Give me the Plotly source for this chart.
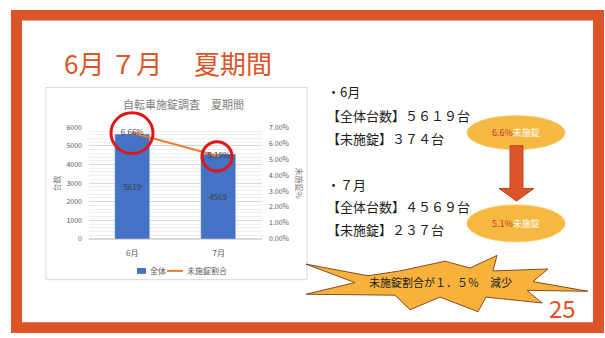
import plotly.graph_objects as go

W, H = 605, 338
FONT = "Noto Sans CJK JP"
ORANGE = "#DC5528"

months = ["6月", "7月"]
totals = [5619, 4569]
unlocked = [374, 237]
rates = [u / t for u, t in zip(unlocked, totals)]
rate_labels = [f"{r*100:.2f}%" for r in rates]

left_ticks = [0, 1000, 2000, 3000, 4000, 5000, 6000]
right_ticks = [0, 0.01, 0.02, 0.03, 0.04, 0.05, 0.06, 0.07]

title_text = "6月 ７月　 夏期間"
chart_title = "自転車施錠調査　夏期間"
side_lines = ["・6月", "【全体台数】５６１９台", "【未施錠】３７４台",
              "・７月", "【全体台数】４５６９台", "【未施錠】２３７台"]
side_y = [88, 113, 137, 184, 207, 230]
oval_pcts = ["6.6%", "5.1%"]
burst_text = "未施錠割合が１．５％　減少"
page_no = "25"
legend_names = ["全体", "未施錠割合"]


def px(x):
    return x / W


def py(y):
    return 1 - y / H


fig = go.Figure()
fig.add_trace(go.Bar(
    x=months, y=totals, name=legend_names[0], marker_color="#4472C4", width=0.41,
    text=[str(t) for t in totals], textposition="inside", insidetextanchor="middle",
    textfont=dict(size=8, color="#404040", family=FONT), yaxis="y"))
fig.add_trace(go.Scatter(
    x=months, y=rates, name=legend_names[1], mode="lines+text",
    line=dict(color="#ED7D31", width=2), text=rate_labels,
    textposition="middle center", textfont=dict(size=8, color="#404040", family=FONT),
    yaxis="y2"))

shapes = []
# slide frame
shapes.append(dict(type="rect", xref="paper", yref="paper", x0=px(11), x1=px(604), y0=py(337), y1=py(4),
                   fillcolor=ORANGE, line=dict(width=0), layer="below"))
shapes.append(dict(type="rect", xref="paper", yref="paper", x0=px(22), x1=px(593), y0=py(326), y1=py(15),
                   fillcolor="white", line=dict(width=0), layer="below"))
# chart box
shapes.append(dict(type="rect", xref="paper", yref="paper", x0=px(46), x1=px(307), y0=py(282), y1=py(84),
                   fillcolor="white", line=dict(color="#D9D9D9", width=1), layer="below"))
# legend symbols
shapes.append(dict(type="rect", xref="paper", yref="paper", x0=px(137), x1=px(146), y0=py(276), y1=py(270),
                   fillcolor="#4472C4", line=dict(width=0)))
shapes.append(dict(type="line", xref="paper", yref="paper", x0=px(167), x1=px(183), y0=py(273), y1=py(273),
                   line=dict(color="#ED7D31", width=2)))
# red circles
shapes.append(dict(type="circle", xref="paper", yref="paper", x0=px(111), x1=px(153), y0=py(152), y1=py(110),
                   line=dict(color="#E01515", width=3)))
shapes.append(dict(type="circle", xref="paper", yref="paper", x0=px(202), x1=px(232), y0=py(170), y1=py(140),
                   line=dict(color="#E01515", width=3)))
# ovals
for (y0, y1) in [(113, 148), (205, 243)]:
    shapes.append(dict(type="circle", xref="paper", yref="paper", x0=px(467), x1=px(565), y0=py(y1), y1=py(y0),
                       fillcolor="#F5B942", line=dict(color="#F7CB6A", width=1)))
# down arrow
arrow_pts = [(510, 144), (523, 144), (523, 188), (534, 188), (516.5, 201), (499, 188), (510, 188)]
path = "M " + " L ".join(f"{px(x)},{py(y)}" for x, y in arrow_pts) + " Z"
shapes.append(dict(type="path", xref="paper", yref="paper", path=path,
                   fillcolor=ORANGE, line=dict(color="#B8461F", width=1)))
# starburst
burst = [(306, 266), (368, 278), (400, 273), (445, 263), (470, 270), (497, 257), (493, 273),
         (548, 271), (533, 284), (588, 294), (527, 293), (542, 306), (486, 300), (478, 315),
         (440, 300), (410, 313), (395, 298), (306, 297), (355, 285)]
path = "M " + " L ".join(f"{px(x)},{py(y)}" for x, y in burst) + " Z"
shapes.append(dict(type="path", xref="paper", yref="paper", path=path,
                   fillcolor="#F7B23B", line=dict(color="#8A4A20", width=1)))


def A(text, x, y, size, color, xanchor="center", angle=0):
    return dict(text=text, x=px(x), y=py(y), xref="paper", yref="paper", xanchor=xanchor,
                yanchor="middle", showarrow=False, textangle=angle,
                font=dict(size=size, color=color, family=FONT))


ann = []
ann.append(A(title_text, 62, 58, 26, ORANGE, "left"))
ann.append(A(chart_title, 183, 101, 11, "#7F7F7F"))
ann.append(A("台数", 57, 183, 8, "#7F7F7F", angle=-90))
ann.append(A("未施錠%", 299, 183, 8, "#7F7F7F", angle=90))
for t, y in zip(side_lines, side_y):
    ann.append(A(t, 325, y, 13, "#202020", "left"))
for p, y in zip(oval_pcts, [130, 224]):
    ann.append(A(f"<span style='color:#C0392B'>{p}</span>未施錠", 516, y, 9, "white"))
ann.append(A(burst_text, 440, 284, 11, "#202020"))
ann.append(A(page_no, 562, 311, 24, ORANGE))
ann.append(A(legend_names[0], 148, 273, 8, "#595959", "left"))
ann.append(A(legend_names[1], 185, 273, 8, "#595959", "left"))

fig.update_layout(
    width=W, height=H, margin=dict(l=0, r=0, t=0, b=0),
    paper_bgcolor="white", plot_bgcolor="rgba(0,0,0,0)",
    font=dict(family=FONT, color="#595959"),
    shapes=shapes, annotations=ann,
    showlegend=False,
    xaxis=dict(domain=[px(89), px(262)], showgrid=False, showline=False, ticks="",
               ticklabelstandoff=8, tickfont=dict(size=8, color="#595959")),
    yaxis=dict(domain=[py(240), py(125)], range=[0, 6000], tickvals=left_ticks,
               gridcolor="#D9D9D9", gridwidth=1, zeroline=True, zerolinecolor="#D9D9D9",
               ticklabelstandoff=6, tickfont=dict(size=7, color="#595959"),
               minor=dict(dtick=200, showgrid=True, gridcolor="#EFEFEF")),
    yaxis2=dict(overlaying="y", side="right", range=[0, 0.07], tickvals=right_ticks,
                tickformat=".2%", showgrid=False, zeroline=False,
                ticklabelstandoff=6, tickfont=dict(size=7, color="#595959")),
    bargap=0,
)

fig.write_html("out.html")
